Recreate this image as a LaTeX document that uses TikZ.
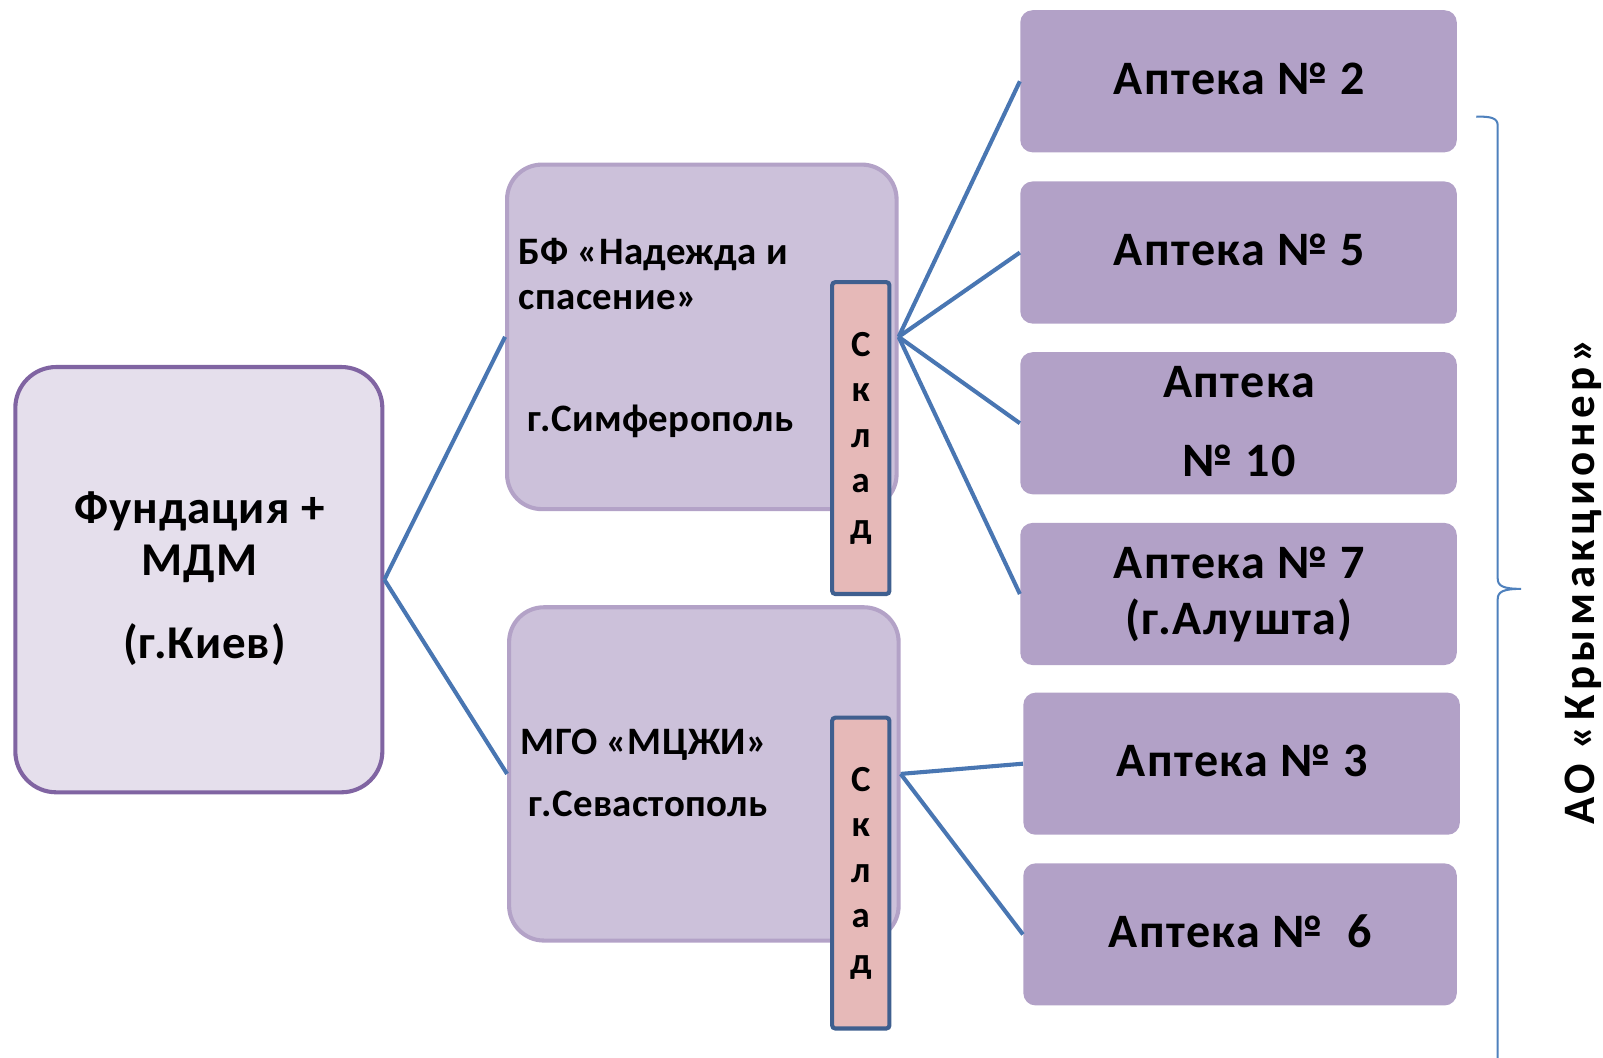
\documentclass[tikz,border=0pt]{standalone}
\usepackage{fontspec}
\setmainfont{Carlito}
\definecolor{mainfill}{HTML}{E5DFEC}
\definecolor{mainline}{HTML}{8064A2}
\definecolor{midfill}{HTML}{CCC1DA}
\definecolor{midline}{HTML}{B3A2C7}
\definecolor{skfill}{HTML}{E6B9B8}
\definecolor{skline}{HTML}{3F5F8F}
\definecolor{aptfill}{HTML}{B2A1C7}
\definecolor{linkcol}{HTML}{4976B2}
\definecolor{bracecol}{HTML}{4F81BD}
\tikzset{
  mainbox/.style={draw=mainline, fill=mainfill, line width=2pt, rounded corners=20pt, inner sep=0pt},
  midbox/.style={draw=midline, fill=midfill, line width=2pt, rounded corners=17pt, inner sep=0pt, minimum width=190.5pt},
  skladbox/.style={draw=skline, fill=skfill, line width=2pt, rounded corners=1.5pt, inner sep=0pt, minimum width=28pt, align=center, font=\bfseries\fontsize{18}{22.25}\selectfont},
  aptbox/.style={fill=aptfill, rounded corners=6pt, inner sep=0pt, minimum height=69.5pt},
  apttxt/.style={anchor=base, inner sep=0pt, font=\bfseries\fontsize{23.5}{26}\selectfont\addfontfeatures{LetterSpace=3}},
  maintxt/.style={anchor=base, inner sep=0pt, font=\bfseries\fontsize{23}{26}\selectfont\addfontfeatures{LetterSpace=2}},
  midtxt/.style={anchor=base west, inner sep=0pt, font=\bfseries\fontsize{19}{22}\selectfont\addfontfeatures{LetterSpace=1}},
  link/.style={draw=linkcol, line width=2pt},
  bracepath/.style={draw=bracecol, line width=1pt}
}
\begin{document}
\begin{tikzpicture}[x=0.5pt,y=-0.5pt]
\useasboundingbox (0,0) rectangle (1568,1034);
\begin{scope}
\clip (0,0) rectangle (1568,1034);
% boxes
\node[mainbox, minimum width=179.5pt, minimum height=208pt] (main) at (194.5,567) {};
\node[midbox, minimum height=168.5pt] (bf) at (686.5,329.5) {};
\node[midbox, minimum height=163pt] (mgo) at (688.5,757) {};
\node[skladbox, minimum height=152.5pt] (sk1) at (842,428.5) {С\\к\\л\\а\\д};
\node[skladbox, minimum height=152pt] (sk2) at (842,854) {С\\к\\л\\а\\д};
\node[aptbox, minimum width=213.5pt] (a2) at (1211.5,79.5) {};
\node[aptbox, minimum width=213.5pt] (a5) at (1211.5,247) {};
\node[aptbox, minimum width=213.5pt] (a10) at (1211.5,414) {};
\node[aptbox, minimum width=213.5pt] (a7) at (1211.5,581) {};
\node[aptbox, minimum width=213.5pt] (a3) at (1214.5,747) {};
\node[aptbox, minimum width=212pt] (a6) at (1213,914) {};
% connectors
\draw[link] (main.east) -- (bf.west);
\draw[link] (main.east) -- (mgo.west);
\draw[link] (bf.east) -- (a2.west);
\draw[link] (bf.east) -- (a5.west);
\draw[link] (bf.east) -- (a10.west);
\draw[link] (bf.east) -- (a7.west);
\draw[link] (mgo.east) -- (a3.west);
\draw[link] (mgo.east) -- (a6.west);
% texts
\node[maintxt] (t1) at (195,512) {Фундация +};
\node[maintxt] (t2) at (195,563) {МДМ};
\node[maintxt] (t3) at (200,644) {(г.Киев)};
\node[midtxt] (b1) at (507,259) {БФ «Надежда и};
\node[midtxt] (b2) at (507,303) {спасение»};
\node[midtxt] (b3) at (516,422) {г.Симферополь};
\node[midtxt] (m1) at (509,738) {МГО «МЦЖИ»};
\node[midtxt] (m2) at (517,799) {г.Севастополь};
\node[apttxt] (x2) at (1212,92) {Аптека № 2};
\node[apttxt] (x5) at (1212,260) {Аптека № 5};
\node[apttxt] (x10a) at (1212,389) {Аптека};
\node[apttxt] (x10b) at (1212,466) {№ 10};
\node[apttxt] (x7a) at (1212,566) {Аптека № 7};
\node[apttxt] (x7b) at (1212,621) {(г.Алушта)};
\node[apttxt] (x3) at (1215,760) {Аптека № 3};
\node[apttxt] (x6) at (1213,927) {Аптека №\ \ 6};
% brace
\coordinate (bt) at (1444,114);
\coordinate (btip) at (1488,576);
\coordinate (bb) at (1465,1045);
\draw[bracepath] (bt) .. controls (1458,114) and (1465,115) .. (1465,123) -- (1465,566) .. controls (1465,573) and (1470,576) .. (btip) .. controls (1470,576) and (1465,579) .. (1465,586) -- (bb);
\node[rotate=90, anchor=base, inner sep=0pt, font=\bfseries\fontsize{22}{24}\selectfont\addfontfeatures{LetterSpace=10}] (lbl) at (1560,569) {АО «Крымакционер»};
\end{scope}
\end{tikzpicture}
\end{document}
